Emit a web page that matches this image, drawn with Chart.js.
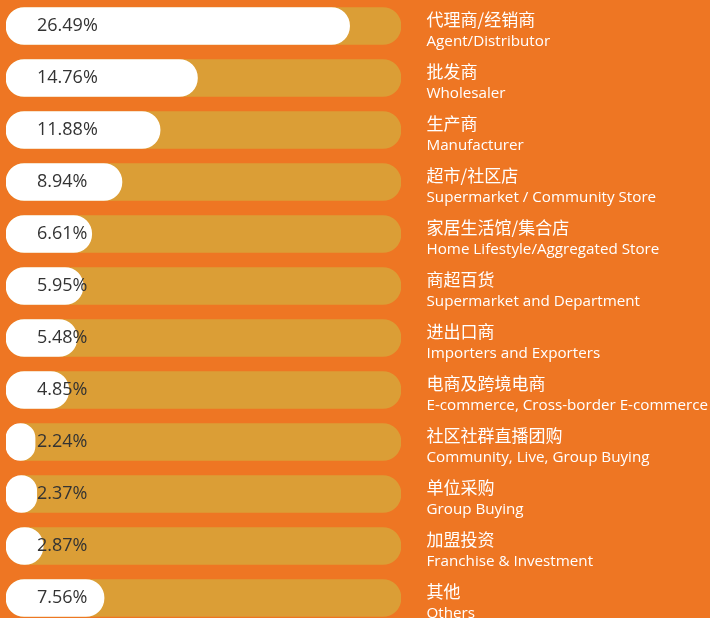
<!DOCTYPE html>
<html>
<head>
<meta charset="utf-8">
<script src="https://cdn.jsdelivr.net/npm/chart.js@4"></script>
<style>
  html, body { margin: 0; padding: 0; background: #EE7623; overflow: hidden; }
  #wrap { width: 710px; height: 624px; position: relative; }
</style>
</head>
<body>
<div id="wrap"><canvas id="barChart"></canvas></div>
<script>
var labelsZh = ['代理商/经销商', '批发商', '生产商', '超市/社区店', '家居生活馆/集合店', '商超百货',
    '进出口商', '电商及跨境电商', '社区社群直播团购', '单位采购', '加盟投资', '其他'];
var labelsEn = ['Agent/Distributor', 'Wholesaler', 'Manufacturer', 'Supermarket / Community Store',
    'Home Lifestyle/Aggregated Store', 'Supermarket and Department', 'Importers and Exporters',
    'E-commerce, Cross-border E-commerce', 'Community, Live, Group Buying', 'Group Buying',
    'Franchise & Investment', 'Others'];
var shares = [26.49, 14.76, 11.88, 8.94, 6.61, 5.95, 5.48, 4.85, 2.24, 2.37, 2.87, 7.56];
var trackMax = 30.45;
var track = labelsZh.map(function () { return trackMax; });

// percent inside the bar, names on the right
var textPlugin = {
    id: 'rowText',
    afterDatasetsDraw: function (chart) {
        var ctx = chart.ctx;
        var area = chart.chartArea;
        var yScale = chart.scales.y;
        ctx.save();
        ctx.textBaseline = 'middle';
        ctx.textAlign = 'left';
        for (var i = 0; i < shares.length; i++) {
            var y = yScale.getPixelForValue(i);
            ctx.fillStyle = '#333333';
            ctx.font = '18px "Open Sans"';
            ctx.fillText(shares[i].toFixed(2) + '%', area.left + 31, y);
            ctx.fillStyle = '#ffffff';
            ctx.font = '17px "Noto Sans CJK SC"';
            ctx.fillText(labelsZh[i], area.right + 25.5, y - 6);
            ctx.font = '15.2px "Open Sans"';
            ctx.fillText(labelsEn[i], area.right + 25.5, y + 16);
        }
        ctx.restore();
    }
};

var barConfig = {
    type: 'bar',
    data: {
        labels: labelsZh,
        datasets: [{
            data: shares,
            backgroundColor: '#ffffff',
            borderRadius: 20,
            borderSkipped: false,
            barThickness: 37,
            grouped: false,
            order: 0
        }, {
            data: track,
            backgroundColor: '#DB9E36',
            borderRadius: 20,
            borderSkipped: false,
            barThickness: 37,
            grouped: false,
            order: 1
        }]
    },
    options: {
        indexAxis: 'y',
        responsive: true,
        maintainAspectRatio: false,
        animation: false,
        layout: { padding: { left: 6, right: 309, top: 0, bottom: 0 } },
        plugins: { legend: { display: false }, tooltip: { enabled: false } },
        scales: {
            x: { min: 0, max: trackMax, display: false },
            y: { display: false }
        }
    },
    plugins: [textPlugin]
};

var barChart = new Chart(document.getElementById('barChart'), barConfig);
</script>
</body>
</html>
